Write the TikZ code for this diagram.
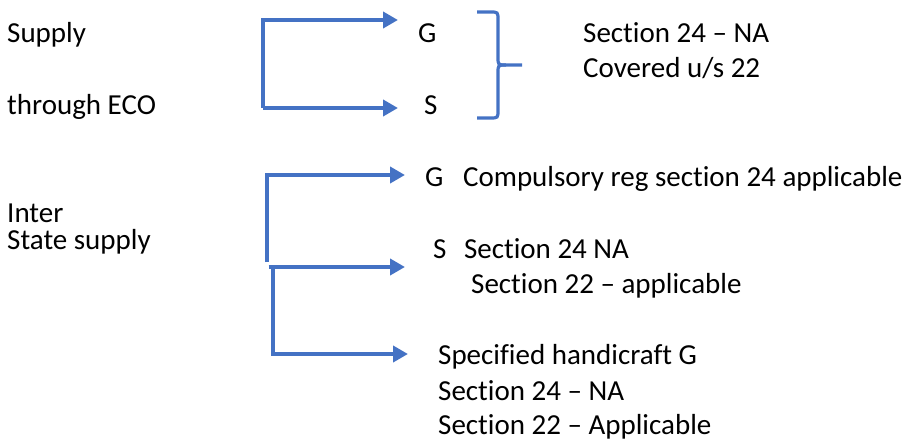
\documentclass[tikz,border=0pt]{standalone}
\usepackage{fontspec}
\setmainfont{Carlito}[Ligatures={TeX,NoCommon}]
\usetikzlibrary{arrows.meta}
\definecolor{offblue}{HTML}{4472C4}
\begin{document}
\begin{tikzpicture}[x=1pt,y=-1pt]
	% Styles
	\tikzset{lbl/.style={anchor=base west,inner sep=0pt,font=\fontsize{29}{35}\selectfont},
		link/.style={draw=offblue,line width=3.8pt},
		arr/.style={link,-{Triangle[length=15pt,width=16pt]}}}
	\useasboundingbox (0,0) rectangle (910,441);

	% Left labels
	\node[lbl] (supply) at (7,43) {Supply};
	\node[lbl] (eco) at (7,115) {through ECO};
	\node[lbl] (inter) at (7,222) {Inter};
	\node[lbl] (state) at (7,249) {State supply};

	% Supply through ECO
	\node[lbl] (g1) at (418,43) {G};
	\node[lbl] (s1) at (424,115) {S};
	\node[lbl] (na1) at (583,43) {Section 24 – NA};
	\node[lbl] (cov) at (583,78) {Covered u/s 22};

	\coordinate (c1) at (263,20);
	\coordinate (c2) at (263,108);
	\coordinate (t1) at (398,20);
	\coordinate (t2) at (398,108);
	\draw[arr] (c2) -- (c1) -- (t1);
	\draw[arr] (c2) -- (t2);

	% Brace
	\coordinate (btop) at (477,12);
	\coordinate (bbot) at (477,118);
	\coordinate (btip) at (522,65);
	\draw[link,line width=3.2pt] (btop) -- (490,12) .. controls (498,12) .. (498,20) -- (498,57)
		.. controls (498,65) .. (506,65) -- (btip);
	\draw[link,line width=3.2pt] (bbot) -- (490,118) .. controls (498,118) .. (498,110) -- (498,73)
		.. controls (498,65) .. (506,65);

	% Inter State supply
	\node[lbl] (g2) at (425,186) {G\hspace{0.45em} Compulsory reg section 24 applicable};
	\node[lbl] (s2) at (433,258) {S\hspace{0.38em} Section 24 NA};
	\node[lbl] (s2b) at (471,293) {Section 22 – applicable};
	\node[lbl] (hc) at (438,364) {Specified handicraft G};
	\node[lbl] (hc2) at (438,400) {Section 24 – NA};
	\node[lbl] (hc3) at (438,434) {Section 22 – Applicable};

	\coordinate (d1) at (267,175);
	\coordinate (d2) at (267,262);
	\coordinate (e1) at (273,267);
	\coordinate (e2) at (273,354);
	\coordinate (u1) at (405,175);
	\coordinate (u2) at (405,267);
	\coordinate (u3) at (408,354);
	\draw[arr] (d2) -- (d1) -- (u1);
	\draw[arr] (e1) ++(-4.5,0) -- (u2);
	\draw[arr] (e1) -- (e2) -- (u3);
\end{tikzpicture}
\end{document}
